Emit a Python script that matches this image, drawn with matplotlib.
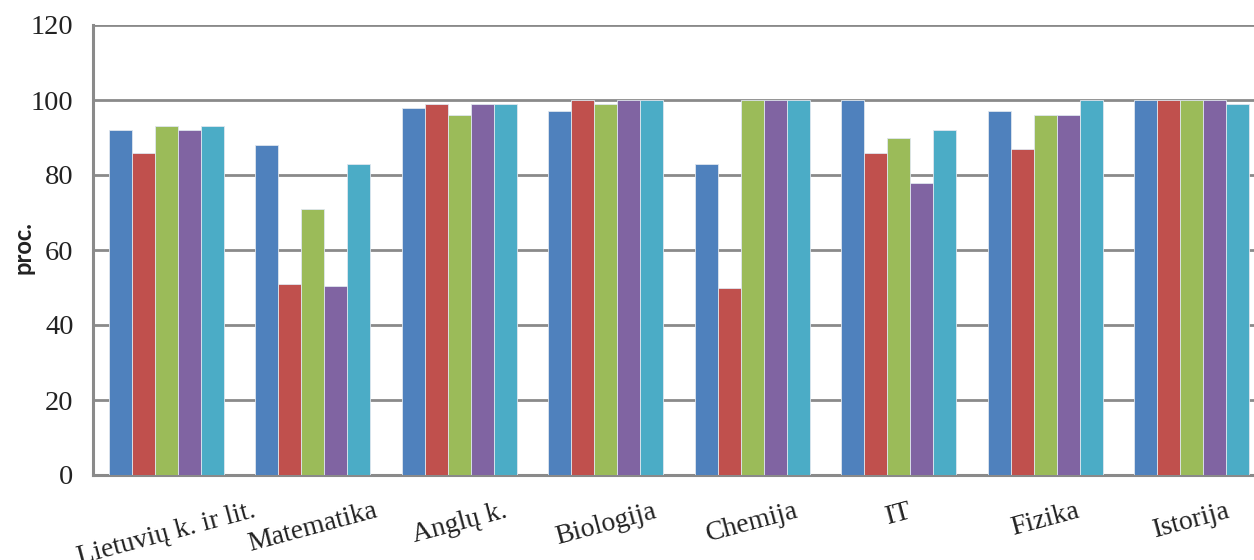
import matplotlib
matplotlib.use("Agg")
import matplotlib.pyplot as plt
import numpy as np

categories = ["Lietuvių k. ir lit.", "Matematika", "Anglų k.", "Biologija",
              "Chemija", "IT", "Fizika", "Istorija"]
series1 = [92, 88, 98, 97, 83, 100, 97, 100]
series2 = [86, 51, 99, 100, 50, 86, 87, 100]
series3 = [93, 71, 96, 99, 100, 90, 96, 100]
series4 = [92, 50.5, 99, 100, 100, 78, 96, 100]
series5 = [93, 83, 99, 100, 100, 92, 100, 99]
series = [series1, series2, series3, series4, series5]
colors = ["#4F81BD", "#C0504D", "#9BBB59", "#8064A2", "#4BACC6"]
yticks = [0, 20, 40, 60, 80, 100, 120]

fig = plt.figure(figsize=(12.54, 5.6), dpi=100)
ax = fig.add_axes([93/1254, 85/560, (1265-93)/1254, 450/560])

x = np.arange(len(categories))
bw = 0.157
for i, (vals, c) in enumerate(zip(series, colors)):
    ax.bar(x + (i - 2) * bw, vals, width=bw, color=c, edgecolor="#dfe6ee",
           linewidth=0.6, zorder=3)

ax.set_xlim(-0.5, len(categories) - 0.5)
ax.set_ylim(0, 120)
ax.set_yticks(yticks)
ax.set_yticklabels([str(v) for v in yticks], family="Liberation Serif",
                   fontsize=20.5, color="#222222")
ax.set_xticks(x)
ax.set_xticklabels(categories, family="Liberation Serif", fontsize=20,
                   color="#222222", rotation=15, ha="center", va="top")
ax.tick_params(axis="y", length=0, pad=14)
ax.tick_params(axis="x", length=0, pad=17)

ax.grid(axis="y", color="#8a8a8a", linewidth=2, zorder=0)
ax.set_axisbelow(True)
for s in ["top", "right"]:
    ax.spines[s].set_visible(False)
for s in ["left", "bottom"]:
    ax.spines[s].set_color("#8a8a8a")
    ax.spines[s].set_linewidth(2.2)

fig.text(23/1254, 1 - 248/560, "proc.", rotation=90, ha="center", va="center",
         family="Lato", fontweight="bold", fontsize=17, color="#222222")

fig.savefig("out.png", dpi=100)
